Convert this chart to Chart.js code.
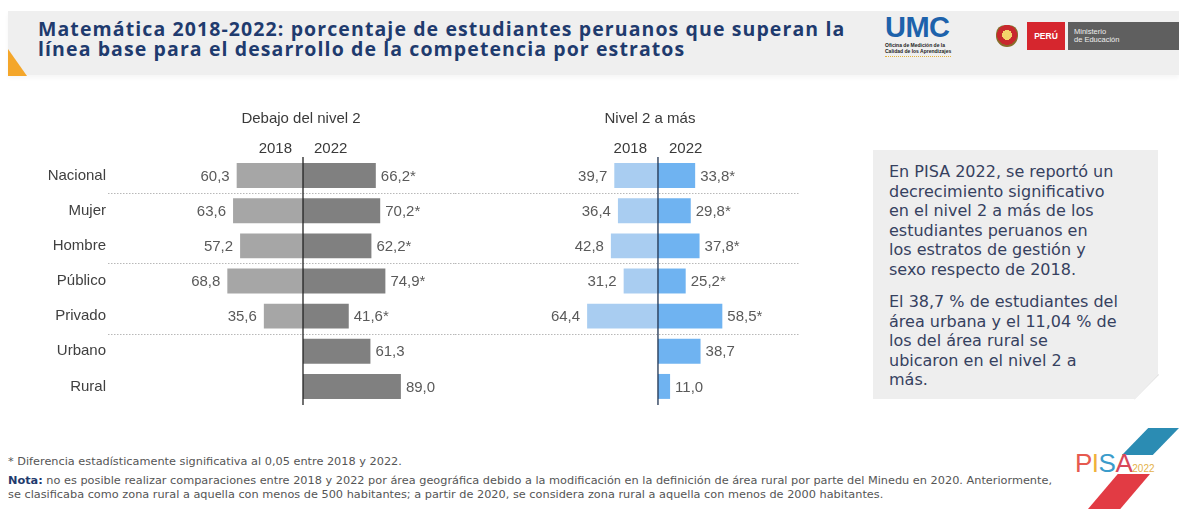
<!DOCTYPE html>
<html>
<head>
<meta charset="utf-8">
<script src="https://cdn.jsdelivr.net/npm/chart.js@4"></script>
<style>
  body { margin: 0; background: #fff; }
  #page { position: relative; width: 1179px; height: 509px; overflow: hidden; font-family: 'Open Sans', sans-serif; }
  .abs { position: absolute; }
  #band { left: 8px; top: 11px; width: 1171px; height: 64px; background: #efefef; box-shadow: 0 3px 4px rgba(0,0,0,0.04); }
  #tri { left: 8px; top: 49px; width: 19px; height: 27px; background: #f4a62a; clip-path: polygon(0 0, 100% 100%, 0 100%); }
  #title { left: 38px; top: 19px; width: 850px; font-weight: 700; font-size: 19.5px; letter-spacing: 1.1px; line-height: 20px; color: #1f3b6e; white-space: nowrap; }
  #umc { left: 885px; top: 11px; font: 900 29px 'Liberation Sans', sans-serif; color: #1d62ab; letter-spacing: -0.5px; }
  #umcsub { left: 885px; top: 43px; font: 700 5px 'Liberation Sans', sans-serif; line-height: 5.5px; color: #222; border-bottom: 1px dotted #e2b23a; padding-bottom: 2px; }
  #shield { left: 996px; top: 25px; width: 22px; height: 22px; border-radius: 40% 40% 50% 50%; background: radial-gradient(circle at 50% 45%, #f3d36b 0 30%, #c8282d 31% 60%, #8a6a2a 61%); }
  #peru { left: 1027px; top: 22px; width: 38px; height: 28px; background: #d6262e; color: #fff; font: 700 8.5px 'Liberation Sans', sans-serif; line-height: 28px; text-align: center; }
  #minedu { left: 1068px; top: 22px; width: 111px; height: 28px; background: #5f5f5f; color: #eee; font: 7.5px 'Liberation Sans', sans-serif; line-height: 8px; padding: 6px 0 0 6px; box-sizing: border-box; }
  #left { left: 0; top: 100px; }
  #right { left: 455px; top: 100px; }
  #note { left: 873px; top: 150px; width: 285px; height: 249px; background: #eeeeee; }
  #notetext { left: 889px; top: 162px; font: 16px 'DejaVu Sans', sans-serif; line-height: 19.5px; color: #36415f; white-space: nowrap; }
  #notetext p { margin: 0 0 13px 0; }
  #fold { left: 1134px; top: 374px; width: 25px; height: 26px; background: linear-gradient(315deg, #fff 0 48%, #c9c9c9 52%, #e4e4e4 100%); clip-path: polygon(100% 0, 100% 100%, 0 100%); }
  #foot1 { left: 8px; top: 455px; font: 11.3px 'DejaVu Sans', sans-serif; color: #555; white-space: nowrap; }
  #foot2 { left: 8px; top: 474px; font: 11.3px 'DejaVu Sans', sans-serif; line-height: 13.5px; color: #555; white-space: nowrap; }
  #foot2 b { color: #1f3b6e; }
  #pisaTop { left: 1122px; top: 428px; width: 57px; height: 27px; background: #2b8cb3; clip-path: polygon(46% 0, 100% 0, 54% 100%, 0 100%); }
  #pisaBot { left: 1088px; top: 474px; width: 62px; height: 35px; background: #e23b44; clip-path: polygon(48% 0, 100% 0, 52% 100%, 0 100%); }
  #pisa { left: 1075px; top: 448px; font: 400 26px 'Liberation Sans', sans-serif; letter-spacing: -0.5px; }
  #pisa small { font-size: 10px; color: #e4b24a; letter-spacing: 0; }
</style>
</head>
<body>
<div id="page">
  <div id="band" class="abs"></div>
  <div id="tri" class="abs"></div>
  <div id="title" class="abs">Matemática 2018-2022: porcentaje de estudiantes peruanos que superan la<br>línea base para el desarrollo de la competencia por estratos</div>
  <div id="umc" class="abs">UMC</div>
  <div id="umcsub" class="abs">Oficina de Medición de la<br>Calidad de los Aprendizajes</div>
  <div id="shield" class="abs"></div>
  <div id="peru" class="abs">PERÚ</div>
  <div id="minedu" class="abs">Ministerio<br>de Educación</div>

  <canvas id="left" class="abs" width="455" height="310"></canvas>
  <canvas id="right" class="abs" width="345" height="310"></canvas>

  <div id="note" class="abs"></div>
  <div id="fold" class="abs"></div>
  <div id="notetext" class="abs">
    <p>En PISA 2022, se reportó un<br>decrecimiento significativo<br>en el nivel 2 a más de los<br>estudiantes peruanos en<br>los estratos de gestión y<br>sexo respecto de 2018.</p>
    <p>El 38,7 % de estudiantes del<br>área urbana y el 11,04 % de<br>los del área rural se<br>ubicaron en el nivel 2 a<br>más.</p>
  </div>

  <div id="foot1" class="abs">* Diferencia estadísticamente significativa al 0,05 entre 2018 y 2022.</div>
  <div id="foot2" class="abs"><b>Nota:</b> no es posible realizar comparaciones entre 2018 y 2022 por área geográfica debido a la modificación en la definición de área rural por parte del Minedu en 2020. Anteriormente,<br>se clasificaba como zona rural a aquella con menos de 500 habitantes; a partir de 2020, se considera zona rural a aquella con menos de 2000 habitantes.</div>

  <div id="pisaTop" class="abs"></div>
  <div id="pisaBot" class="abs"></div>
  <div id="pisa" class="abs"><span style="color:#e65a4f">P</span><span style="color:#f0b23a">I</span><span style="color:#3b9ccb">S</span><span style="color:#d8475a">A</span><small>2022</small></div>
</div>

<script>
const CATEGORIES = ['Nacional', 'Mujer', 'Hombre', 'Público', 'Privado', 'Urbano', 'Rural'];
const YEARS = ['2018', '2022'];
const BELOW_2018 = [60.3, 63.6, 57.2, 68.8, 35.6, null, null];
const BELOW_2022 = [66.2, 70.2, 62.2, 74.9, 41.6, 61.3, 89.0];
const ABOVE_2018 = [39.7, 36.4, 42.8, 31.2, 64.4, null, null];
const ABOVE_2022 = [33.8, 29.8, 37.8, 25.2, 58.5, 38.7, 11.0];
// 2022 values marked with * (significant change vs 2018)
const SIGNIFICANT = [true, true, true, true, true, false, false];
// a dotted line follows these categories
const GROUP_ENDS = [0, 2, 4];

const FONT = "'Liberation Sans', Arial, sans-serif";

function fmt(v) {
    return v.toFixed(1).replace('.', ',');
}

const butterflyPlugin = {
    id: 'butterfly',
    afterDatasetsDraw(chart, args, opts) {
        const {ctx, chartArea, scales: {x, y}} = chart;
        const x0 = x.getPixelForValue(0);
        ctx.save();

        // dotted group separators
        ctx.strokeStyle = '#b8b8b8';
        ctx.lineWidth = 1;
        ctx.setLineDash([1.5, 1.5]);
        GROUP_ENDS.forEach(i => {
            const yy = Math.round((y.getPixelForValue(i) + y.getPixelForValue(i + 1)) / 2) + 0.5;
            ctx.beginPath();
            ctx.moveTo(chartArea.left, yy);
            ctx.lineTo(chartArea.right, yy);
            ctx.stroke();
        });
        ctx.setLineDash([]);

        // centre axis
        ctx.strokeStyle = opts.axisColor;
        ctx.lineWidth = 1.3;
        ctx.beginPath();
        ctx.moveTo(x0, chartArea.top - 1);
        ctx.lineTo(x0, chartArea.bottom + 1);
        ctx.stroke();

        // value labels
        ctx.font = '15px ' + FONT;
        ctx.fillStyle = '#5a5a5a';
        ctx.textBaseline = 'middle';
        const [old, cur] = opts.values;
        CATEGORIES.forEach((c, i) => {
            const yy = y.getPixelForValue(i) + 1;
            if (old[i] != null) {
                ctx.textAlign = 'right';
                ctx.fillText(fmt(old[i]), x.getPixelForValue(-old[i]) - 7, yy);
            }
            if (cur[i] != null) {
                ctx.textAlign = 'left';
                ctx.fillText(fmt(cur[i]) + (SIGNIFICANT[i] ? '*' : ''), x.getPixelForValue(cur[i]) + 5, yy);
            }
        });

        // headers
        ctx.fillStyle = '#3a3a3a';
        ctx.textAlign = 'center';
        ctx.fillText(opts.title, x0 + opts.titleShift, chartArea.top - 39);
        ctx.textAlign = 'right';
        ctx.fillText(YEARS[0], x0 - 11, chartArea.top - 9);
        ctx.textAlign = 'left';
        ctx.fillText(YEARS[1], x0 + 11, chartArea.top - 9);
        ctx.restore();
    }
};

function makeChart(id, title, titleShift, old, cur, colors, axisColor, xMin, xMax, labelWidth) {
    const yAxis = {
        display: labelWidth > 0,
        grid: {display: false, drawTicks: false},
        border: {display: false},
        ticks: {color: '#404040', padding: 2, font: {family: FONT, size: 15}}
    };
    if (labelWidth > 0) {
        yAxis.afterFit = s => {
            s.width = labelWidth;
            s.paddingTop = 0;
            s.paddingBottom = 0;
        };
    }
    return new Chart(document.getElementById(id), {
        type: 'bar',
        data: {
            labels: CATEGORIES,
            datasets: [
                {
                    label: YEARS[0],
                    data: old.map(v => v == null ? null : [-v, 0]),
                    backgroundColor: colors[0]
                },
                {
                    label: YEARS[1],
                    data: cur.map(v => v == null ? null : [0, v]),
                    backgroundColor: colors[1]
                }
            ]
        },
        options: {
            indexAxis: 'y',
            responsive: false,
            animation: false,
            datasets: {bar: {grouped: false, barPercentage: 0.71, categoryPercentage: 1}},
            layout: {padding: {top: 58, bottom: 6}},
            scales: {
                x: {display: false, min: xMin, max: xMax},
                y: yAxis
            },
            plugins: {
                legend: {display: false},
                tooltip: {enabled: false},
                butterfly: {values: [old, cur], title: title, titleShift: titleShift, axisColor: axisColor}
            }
        },
        plugins: [butterflyPlugin]
    });
}

makeChart('left', 'Debajo del nivel 2', -2, BELOW_2018, BELOW_2022,
    ['#a6a6a6', '#808080'], '#222', -177.3, 138.2, 108);
makeChart('right', 'Nivel 2 a más', -8, ABOVE_2018, ABOVE_2022,
    ['#a9cdf1', '#6fb3f1'], '#1f3350', -184.5, 129.1, 0);
</script>
</body>
</html>
